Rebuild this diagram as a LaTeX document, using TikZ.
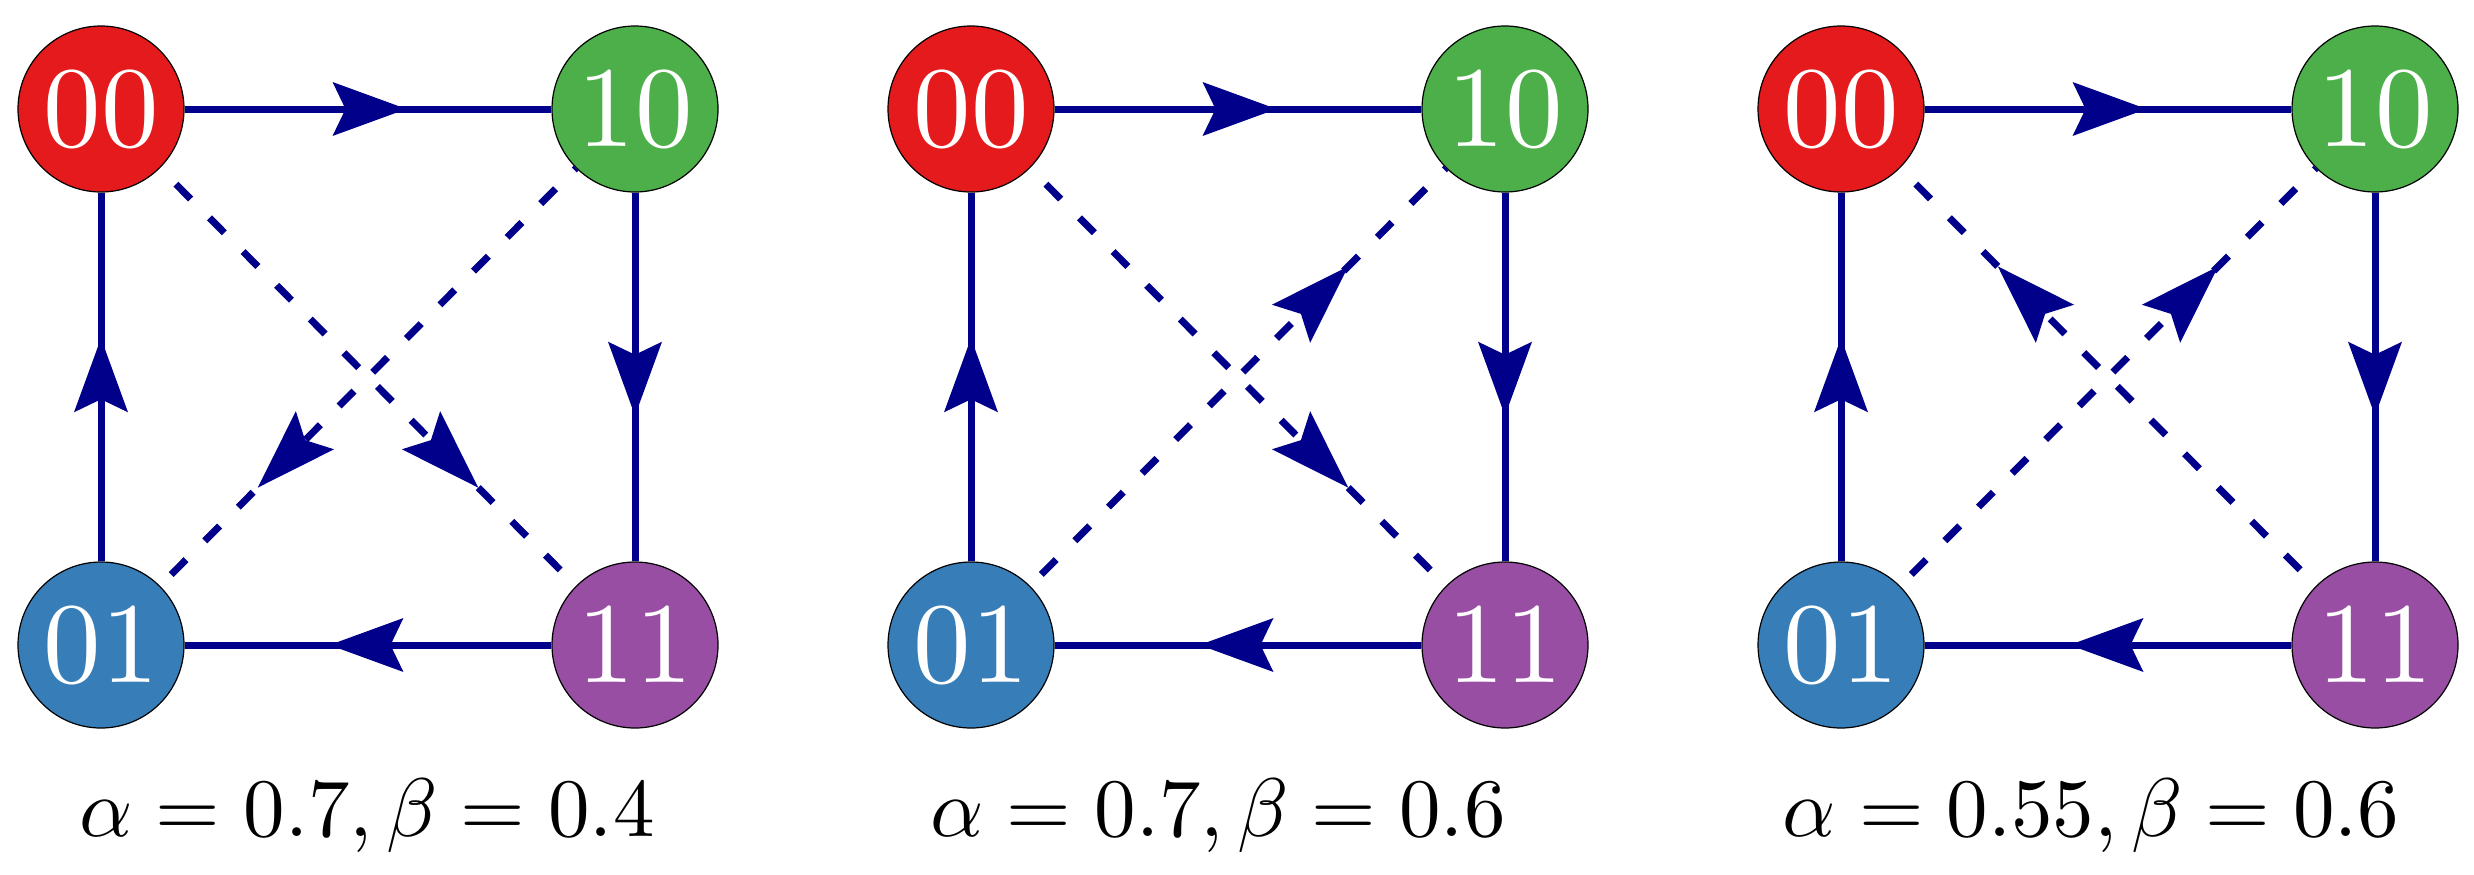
\RequirePackage{fix-cm}
\documentclass[tikz,border=0pt]{standalone}
\usetikzlibrary{decorations.markings}
\DeclareFontFamily{OT1}{cmrten}{\hyphenchar\font45}
\DeclareFontShape{OT1}{cmrten}{m}{n}{<-> cmr10}{}
\DeclareFontFamily{OML}{cmmten}{\skewchar\font127}
\DeclareFontShape{OML}{cmmten}{m}{it}{<-> cmmi10}{}
\DeclareFontFamily{OMS}{cmsyten}{\skewchar\font48}
\DeclareFontShape{OMS}{cmsyten}{m}{n}{<-> cmsy10}{}
\DeclareSymbolFont{operators}{OT1}{cmrten}{m}{n}
\DeclareSymbolFont{letters}{OML}{cmmten}{m}{it}
\DeclareSymbolFont{symbols}{OMS}{cmsyten}{m}{n}
\definecolor{cRed}{HTML}{E41A1C}
\definecolor{cBlue}{HTML}{377EB8}
\definecolor{cGreen}{HTML}{4DAF4A}
\definecolor{cPurple}{HTML}{984EA3}
\definecolor{edgeblue}{RGB}{0,0,139}
\tikzset{
  statenode/.style={circle, draw=black, line width=1.2pt, minimum size=166pt,
    inner sep=0pt, text=white, font={\fontsize{115}{120}\usefont{OT1}{cmrten}{m}{n}}},
  edgeline/.style={draw=edgeblue, line width=7pt},
  edgearrow/.style={postaction={decorate, decoration={markings,
    mark=at position #1 with {\fill[edgeblue] (0pt,0pt) -- (-74pt,27pt) -- (-61pt,0pt) -- (-74pt,-27pt) -- cycle;}}}},
  diagarrow/.style={postaction={decorate, decoration={markings,
    mark=at position #1 with {\fill[edgeblue] (0pt,0pt) -- (-81pt,27pt) -- (-67pt,0pt) -- (-81pt,-27pt) -- cycle;}}}},
  dashline/.style={edgeline, dash pattern=on 21pt off 26.6pt, dash phase=#1},
  captext/.style={anchor=base, font=\fontsize{83}{90}\selectfont},
}
\begin{document}
\begin{tikzpicture}[x=1pt, y=-1pt]
\useasboundingbox (0,0) rectangle (2474,875);
\foreach \p/\ox in {a/0, b/870, c/1740}{
  \node[statenode, fill=cRed]    (\p00) at (\ox+101,109) {00};
  \node[statenode, fill=cGreen]  (\p10) at (\ox+635,109) {10};
  \node[statenode, fill=cBlue]   (\p01) at (\ox+101,645) {01};
  \node[statenode, fill=cPurple] (\p11) at (\ox+635,645) {11};
  \draw[edgeline, edgearrow=0.605] (\p00) -- (\p10);
  \draw[edgeline, edgearrow=0.605] (\p10) -- (\p11);
  \draw[edgeline, edgearrow=0.605] (\p11) -- (\p01);
  \draw[edgeline, edgearrow=0.605] (\p01) -- (\p00);
}
% panel 1
\draw[dashline=25.1pt, diagarrow=0.765] (a00) -- (a11);
\draw[dashline=18.6pt, diagarrow=0.765] (a10) -- (a01);
% panel 2
\draw[dashline=25.1pt, diagarrow=0.765] (b00) -- (b11);
\draw[dashline=31.6pt, diagarrow=0.765] (b01) -- (b10);
% panel 3
\draw[dashline=25.1pt, diagarrow=0.765] (c11) -- (c00);
\draw[dashline=31.6pt, diagarrow=0.765] (c01) -- (c10);
% captions
\node[captext] (capa) at (367,836)  {$\alpha = 0.7, \beta = 0.4$};
\node[captext] (capb) at (1218,836) {$\alpha = 0.7, \beta = 0.6$};
\node[captext] (capc) at (2091,836) {$\alpha = 0.55, \beta = 0.6$};
\end{tikzpicture}
\end{document}
